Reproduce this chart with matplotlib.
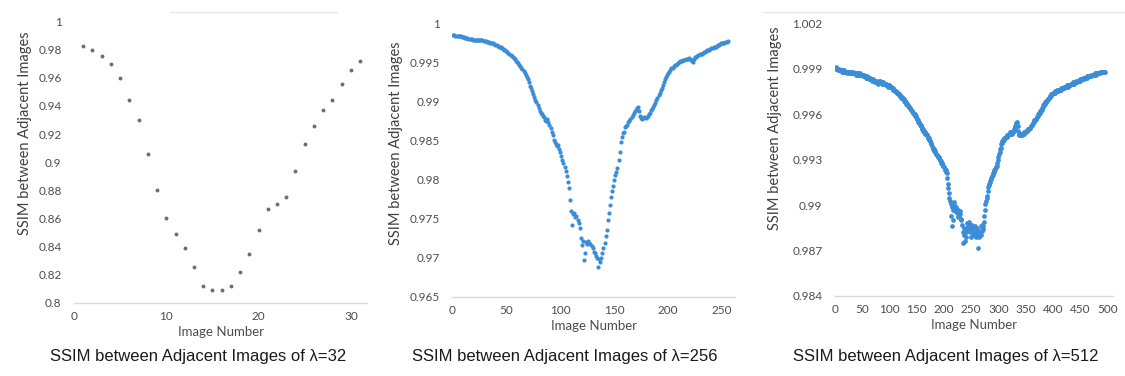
import matplotlib
matplotlib.use("Agg")
import matplotlib.pyplot as plt
from matplotlib.lines import Line2D
from matplotlib.ticker import FuncFormatter

# --------------------------------------------------
#  Data
# --------------------------------------------------
SSIM_32 = [
    0.983, 0.9795, 0.9755, 0.970, 0.960, 0.9445, 0.930, 0.906, 0.880, 0.860,
    0.8486, 0.839, 0.8255, 0.812, 0.8087, 0.8087, 0.812, 0.822, 0.835, 0.852,
    0.8665, 0.870, 0.875, 0.894, 0.913, 0.926, 0.937, 0.9445, 0.9555, 0.9655,
    0.972,
]

SSIM_256 = [
    0.9986, 0.9986, 0.9985, 0.9985, 0.9985, 0.9984, 0.9984, 0.9984, 0.9983, 0.9983,
    0.9983, 0.9982, 0.9982, 0.9982, 0.9981, 0.9981, 0.9981, 0.9981, 0.9980, 0.9980,
    0.9980, 0.9980, 0.9980, 0.9980, 0.9979, 0.9979, 0.9979, 0.9979, 0.9978, 0.9978,
    0.9978, 0.9977, 0.9977, 0.9977, 0.9976, 0.9976, 0.9975, 0.9975, 0.9974, 0.9973,
    0.9973, 0.9972, 0.9971, 0.9970, 0.9970, 0.9969, 0.9968, 0.9967, 0.9966, 0.9965,
    0.9964, 0.9963, 0.9962, 0.9960, 0.9959, 0.9958, 0.9956, 0.9955, 0.9953, 0.9951,
    0.9950, 0.9948, 0.9946, 0.9944, 0.9942, 0.9940, 0.9937, 0.9935, 0.9932, 0.9929,
    0.9925, 0.9921, 0.9918, 0.9914, 0.9910, 0.9906, 0.9903, 0.9900, 0.9896, 0.9892,
    0.9888, 0.9886, 0.9884, 0.9882, 0.9880, 0.9877, 0.9875, 0.9878, 0.9874, 0.9870,
    0.9866, 0.9862, 0.9857, 0.9851, 0.9848, 0.9846, 0.9843, 0.9845, 0.9840, 0.9836,
    0.9830, 0.9826, 0.9822, 0.9816, 0.9811, 0.9805, 0.9797, 0.9790, 0.9774, 0.9760,
    0.9742, 0.9756, 0.9758, 0.9752, 0.9754, 0.9748, 0.9744, 0.9738, 0.9725, 0.9716,
    0.9721, 0.9697, 0.9706, 0.9720, 0.9718, 0.9722, 0.9719, 0.9717, 0.9715, 0.9712,
    0.9708, 0.9706, 0.9702, 0.9700, 0.9688, 0.9698, 0.9695, 0.9700, 0.9706, 0.9712,
    0.9719, 0.9728, 0.9736, 0.9748, 0.9757, 0.9768, 0.9778, 0.9786, 0.9792, 0.9800,
    0.9806, 0.9810, 0.9815, 0.9825, 0.9836, 0.9849, 0.9855, 0.9860, 0.9862, 0.9868,
    0.9869, 0.9871, 0.9874, 0.9876, 0.9878, 0.9880, 0.9883, 0.9886, 0.9888, 0.9890,
    0.9892, 0.9894, 0.9888, 0.9882, 0.9879, 0.9878, 0.9879, 0.9880, 0.9879, 0.9881,
    0.9882, 0.9884, 0.9886, 0.9889, 0.9891, 0.9893, 0.9896, 0.9899, 0.9902, 0.9905,
    0.9909, 0.9912, 0.9915, 0.9918, 0.9922, 0.9926, 0.9929, 0.9932, 0.9935, 0.9937,
    0.9939, 0.9941, 0.9943, 0.9944, 0.9946, 0.9947, 0.9948, 0.9949, 0.9950, 0.9951,
    0.9952, 0.9953, 0.9953, 0.9954, 0.9954, 0.9955, 0.9955, 0.9955, 0.9956, 0.9955,
    0.9954, 0.9952, 0.9951, 0.9955, 0.9957, 0.9958, 0.9959, 0.9960, 0.9961, 0.9962,
    0.9962, 0.9963, 0.9964, 0.9964, 0.9965, 0.9966, 0.9967, 0.9967, 0.9968, 0.9969,
    0.9969, 0.9970, 0.9971, 0.9971, 0.9972, 0.9973, 0.9973, 0.9974, 0.9975, 0.9975,
    0.9976, 0.9976, 0.9977, 0.9977, 0.9978,
]

SSIM_512 = [
    0.9990, 0.9991, 0.9990, 0.9990, 0.9990, 0.9989, 0.9990, 0.9989, 0.9989, 0.9989,
    0.9989, 0.9988, 0.9989, 0.9988, 0.9989, 0.9989, 0.9988, 0.9988, 0.9988, 0.9988,
    0.9988, 0.9987, 0.9988, 0.9988, 0.9987, 0.9988, 0.9988, 0.9987, 0.9987, 0.9988,
    0.9987, 0.9987, 0.9988, 0.9987, 0.9987, 0.9987, 0.9987, 0.9986, 0.9987, 0.9987,
    0.9986, 0.9987, 0.9986, 0.9986, 0.9987, 0.9986, 0.9986, 0.9986, 0.9986, 0.9986,
    0.9986, 0.9985, 0.9986, 0.9985, 0.9985, 0.9985, 0.9984, 0.9985, 0.9984, 0.9984,
    0.9984, 0.9984, 0.9983, 0.9984, 0.9983, 0.9983, 0.9983, 0.9982, 0.9983, 0.9982,
    0.9982, 0.9982, 0.9982, 0.9981, 0.9982, 0.9981, 0.9981, 0.9981, 0.9980, 0.9981,
    0.9982, 0.9981, 0.9982, 0.9981, 0.9981, 0.9981, 0.9980, 0.9981, 0.9980, 0.9980,
    0.9980, 0.9980, 0.9979, 0.9980, 0.9979, 0.9979, 0.9979, 0.9978, 0.9979, 0.9979,
    0.9978, 0.9978, 0.9978, 0.9977, 0.9977, 0.9977, 0.9976, 0.9976, 0.9976, 0.9975,
    0.9975, 0.9975, 0.9974, 0.9974, 0.9974, 0.9973, 0.9973, 0.9973, 0.9972, 0.9972,
    0.9972, 0.9971, 0.9971, 0.9971, 0.9970, 0.9970, 0.9969, 0.9969, 0.9968, 0.9968,
    0.9967, 0.9967, 0.9966, 0.9966, 0.9965, 0.9965, 0.9964, 0.9964, 0.9963, 0.9963,
    0.9962, 0.9962, 0.9961, 0.9961, 0.9960, 0.9960, 0.9959, 0.9959, 0.9958, 0.9957,
    0.9957, 0.9956, 0.9955, 0.9955, 0.9954, 0.9953, 0.9953, 0.9952, 0.9951, 0.9950,
    0.9950, 0.9949, 0.9949, 0.9948, 0.9948, 0.9947, 0.9947, 0.9946, 0.9946, 0.9945,
    0.9944, 0.9944, 0.9943, 0.9942, 0.9942, 0.9941, 0.9940, 0.9939, 0.9938, 0.9937,
    0.9937, 0.9936, 0.9936, 0.9935, 0.9934, 0.9934, 0.9933, 0.9933, 0.9932, 0.9932,
    0.9931, 0.9930, 0.9930, 0.9929, 0.9928, 0.9928, 0.9927, 0.9926, 0.9926, 0.9925,
    0.9924, 0.9923, 0.9923, 0.9922, 0.9921, 0.9918, 0.9914, 0.9911, 0.9908, 0.9905,
    0.9903, 0.9901, 0.9893, 0.9886, 0.9899, 0.9897, 0.9890, 0.9902, 0.9900, 0.9898,
    0.9896, 0.9899, 0.9897, 0.9895, 0.9892, 0.9897, 0.9895, 0.9893, 0.9896, 0.9894,
    0.9890, 0.9891, 0.9887, 0.9882, 0.9875, 0.9885, 0.9880, 0.9876, 0.9884, 0.9882,
    0.9879, 0.9885, 0.9888, 0.9886, 0.9889, 0.9884, 0.9887, 0.9882, 0.9885, 0.9879,
    0.9883, 0.9887, 0.9881, 0.9884, 0.9880, 0.9886, 0.9882, 0.9879, 0.9884, 0.9881,
    0.9885, 0.9880, 0.9872, 0.9883, 0.9879, 0.9882, 0.9886, 0.9880, 0.9883, 0.9887,
    0.9884, 0.9886, 0.9889, 0.9893, 0.9897, 0.9901, 0.9903, 0.9905, 0.9906, 0.9909,
    0.9912, 0.9913, 0.9914, 0.9915, 0.9916, 0.9917, 0.9918, 0.9919, 0.9920, 0.9921,
    0.9922, 0.9923, 0.9924, 0.9924, 0.9925, 0.9925, 0.9926, 0.9928, 0.9930, 0.9932,
    0.9934, 0.9935, 0.9937, 0.9938, 0.9940, 0.9941, 0.9942, 0.9942, 0.9943, 0.9943,
    0.9944, 0.9944, 0.9945, 0.9945, 0.9945, 0.9946, 0.9946, 0.9946, 0.9947, 0.9947,
    0.9947, 0.9948, 0.9948, 0.9947, 0.9948, 0.9948, 0.9948, 0.9949, 0.9950, 0.9951,
    0.9952, 0.9953, 0.9954, 0.9955, 0.9952, 0.9949, 0.9947, 0.9946, 0.9946, 0.9947,
    0.9946, 0.9947, 0.9946, 0.9947, 0.9947, 0.9948, 0.9947, 0.9948, 0.9948, 0.9949,
    0.9948, 0.9949, 0.9949, 0.9950, 0.9950, 0.9950, 0.9951, 0.9951, 0.9952, 0.9952,
    0.9953, 0.9953, 0.9954, 0.9954, 0.9955, 0.9956, 0.9956, 0.9957, 0.9957, 0.9958,
    0.9958, 0.9959, 0.9960, 0.9960, 0.9961, 0.9961, 0.9962, 0.9963, 0.9963, 0.9964,
    0.9965, 0.9966, 0.9966, 0.9967, 0.9967, 0.9968, 0.9968, 0.9969, 0.9969, 0.9970,
    0.9970, 0.9971, 0.9971, 0.9972, 0.9972, 0.9972, 0.9973, 0.9973, 0.9973, 0.9974,
    0.9974, 0.9974, 0.9975, 0.9974, 0.9975, 0.9975, 0.9975, 0.9976, 0.9975, 0.9976,
    0.9976, 0.9976, 0.9976, 0.9977, 0.9976, 0.9977, 0.9977, 0.9977, 0.9977, 0.9978,
    0.9977, 0.9978, 0.9978, 0.9978, 0.9978, 0.9979, 0.9978, 0.9979, 0.9979, 0.9979,
    0.9979, 0.9979, 0.9980, 0.9980, 0.9980, 0.9980, 0.9981, 0.9980, 0.9981, 0.9981,
    0.9981, 0.9981, 0.9982, 0.9981, 0.9982, 0.9982, 0.9982, 0.9982, 0.9983, 0.9982,
    0.9983, 0.9983, 0.9983, 0.9983, 0.9984, 0.9983, 0.9984, 0.9984, 0.9984, 0.9984,
    0.9984, 0.9985, 0.9984, 0.9985, 0.9985, 0.9985, 0.9985, 0.9985, 0.9986, 0.9985,
    0.9986, 0.9986, 0.9986, 0.9986, 0.9986, 0.9986, 0.9987, 0.9986, 0.9987, 0.9987,
    0.9987, 0.9987, 0.9987, 0.9987, 0.9987, 0.9988, 0.9987, 0.9988, 0.9988, 0.9988,
    0.9988, 0.9988, 0.9988, 0.9988, 0.9988,
]

# image numbers start at 1 for each run
IMG_32 = list(range(1, len(SSIM_32) + 1))
IMG_256 = list(range(1, len(SSIM_256) + 1))
IMG_512 = list(range(1, len(SSIM_512) + 1))

XTICKS_32 = [0, 10, 20, 30]
XTICKS_256 = [0, 50, 100, 150, 200, 250]
XTICKS_512 = [0, 50, 100, 150, 200, 250, 300, 350, 400, 450, 500]

YTICKS_32 = [0.8, 0.82, 0.84, 0.86, 0.88, 0.9, 0.92, 0.94, 0.96, 0.98, 1.0]
YTICKS_256 = [0.965, 0.97, 0.975, 0.98, 0.985, 0.99, 0.995, 1.0]
YTICKS_512 = [0.984, 0.987, 0.99, 0.993, 0.996, 0.999, 1.002]

CAPTIONS = [
    "SSIM between Adjacent Images of λ=32",
    "SSIM between Adjacent Images of λ=256",
    "SSIM between Adjacent Images of λ=512",
]

# --------------------------------------------------
#  Stil
# --------------------------------------------------
TICK_FONT = "Lato"
CAPTION_FONT = "Liberation Sans"
GREY_TXT = "#4d4d4d"
AXIS_LINE = "#d9d9d9"
BLUE = "#3a8dd6"


def _excel_fmt(v, pos):
    # Excel "General": 0.990 -> 0.99, 1.000 -> 1
    s = f"{round(v, 4):.3f}".rstrip("0").rstrip(".")
    return s


def _style_axes(ax, xticks, yticks, xlim, ylim, ylabel_xy):
    ax.set_xlim(*xlim)
    ax.set_ylim(*ylim)
    ax.set_xticks(xticks)
    ax.set_yticks(yticks)
    ax.yaxis.set_major_formatter(FuncFormatter(_excel_fmt))
    ax.tick_params(length=0, labelsize=8.5, labelcolor=GREY_TXT)
    ax.tick_params(axis="y", pad=9)
    ax.tick_params(axis="x", pad=6)
    for lab in ax.get_xticklabels() + ax.get_yticklabels():
        lab.set_fontfamily(TICK_FONT)

    for side in ("top", "right", "left"):
        ax.spines[side].set_visible(False)
    ax.spines["bottom"].set_color(AXIS_LINE)
    ax.spines["bottom"].set_linewidth(1.0)

    ax.set_xlabel("Image Number", fontsize=9.5, color=GREY_TXT,
                  fontfamily=TICK_FONT, labelpad=3)
    ax.set_ylabel("SSIM between Adjacent Images", fontsize=10.5, color="#404040",
                  fontfamily=TICK_FONT)
    ax.yaxis.set_label_coords(*ylabel_xy)
    ax.set_facecolor("none")


fig = plt.figure(figsize=(11.25, 3.76), dpi=100)
fig.patch.set_facecolor("white")

# panel 1 : lambda = 32
ax1 = fig.add_axes([0.0658, 0.195, 0.2604, 0.7473])
ax1.plot(IMG_32, SSIM_32, linestyle="none", marker="o", markersize=2.8,
         color="#6e6e6e", markeredgewidth=0)
_style_axes(ax1, XTICKS_32, YTICKS_32, (0, 31.75), (0.8, 1.0), (-0.143, 0.604))

# panel 2 : lambda = 256
ax2 = fig.add_axes([0.4020, 0.2109, 0.2513, 0.7253])
ax2.plot(IMG_256, SSIM_256, linestyle="none", marker="o", markersize=3.0,
         color=BLUE, markeredgewidth=0)
_style_axes(ax2, XTICKS_256, YTICKS_256, (0, 261.8), (0.965, 1.0), (-0.173, 0.5625))

# panel 3 : lambda = 512
ax3 = fig.add_axes([0.7422, 0.2128, 0.2471, 0.7253])
ax3.plot(IMG_512, SSIM_512, linestyle="none", marker="o", markersize=3.4,
         color=BLUE, markeredgewidth=0)
_style_axes(ax3, XTICKS_512, YTICKS_512, (0, 510), (0.984, 1.002), (-0.19, 0.615))

# alt yazılar
for xc, txt in zip([0.176, 0.502, 0.841], CAPTIONS):
    fig.text(xc, 1 - 357 / 376, txt, ha="center", va="center", fontsize=12,
             color="#1a1a1a", fontfamily=CAPTION_FONT)

# soluk çerçeve çizgileri (Excel grafik alanı)
fig.add_artist(Line2D([170 / 1125, 337 / 1125], [1 - 12 / 376, 1 - 12 / 376],
                      color="#e6e6e6", linewidth=1.0))
fig.add_artist(Line2D([763 / 1125, 1.0], [1 - 12 / 376, 1 - 12 / 376],
                      color="#e6e6e6", linewidth=1.0))

fig.savefig("out.png", dpi=100, facecolor="white")
plt.close(fig)
